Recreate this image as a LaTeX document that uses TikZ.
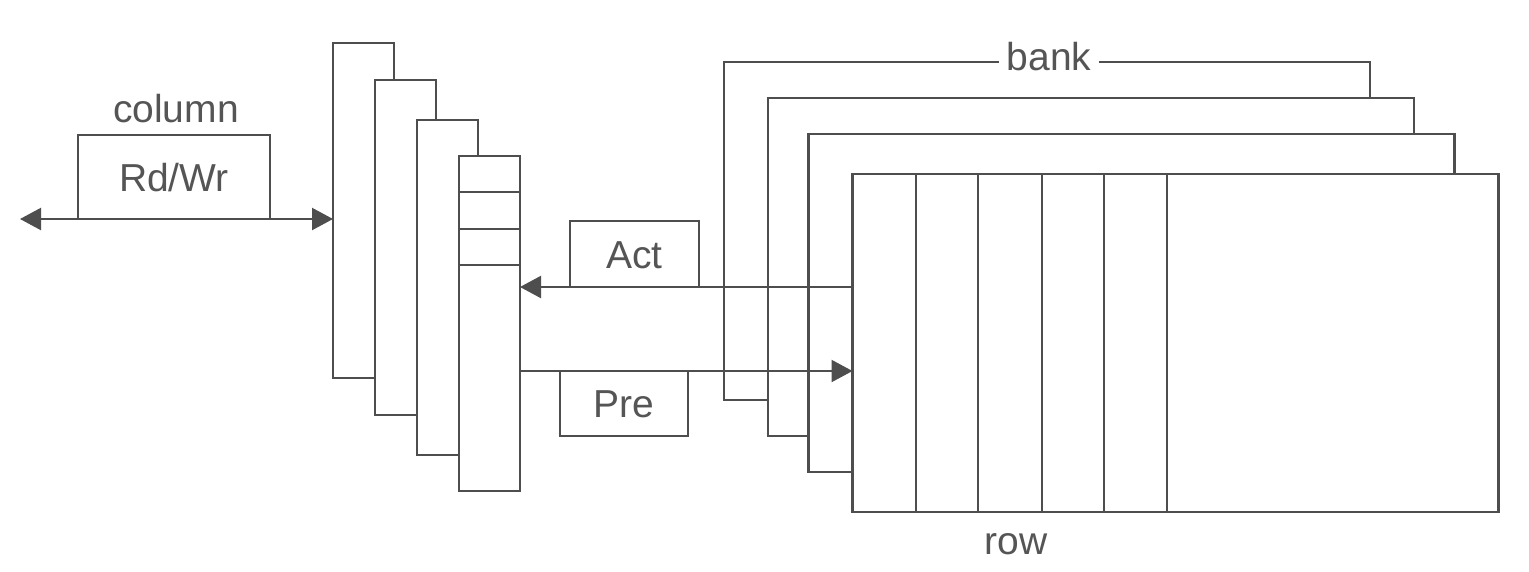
\documentclass[tikz,border=0pt]{standalone}
\usepackage{fontspec}
\setmainfont{Liberation Sans}
\usetikzlibrary{arrows.meta}
\definecolor{ink}{RGB}{78,78,78}
\definecolor{txt}{RGB}{85,85,85}
\begin{document}
\begin{tikzpicture}[x=1pt,y=-1pt,
  line width=2.2pt, draw=ink,
  every node/.style={font=\fontsize{39}{44}\selectfont, text=txt},
  buf/.style={draw=ink, fill=white, line width=2.2pt, inner sep=0pt, outer sep=0pt,
              minimum width=61pt, minimum height=335pt},
  bankbox/.style={draw=ink, fill=white, line width=2.2pt, inner sep=0pt, outer sep=0pt,
              minimum width=646pt, minimum height=338pt},
  cmd/.style={draw=ink, fill=white, line width=2.2pt, inner sep=0pt, outer sep=0pt,
              text height=28pt, text depth=0pt},
  lbl/.style={inner sep=0pt, anchor=base},
  tip/.style={-{Triangle[length=21pt,width=22pt]}},
  tips/.style={{Triangle[length=21pt,width=22pt]}-{Triangle[length=21pt,width=22pt]}}
]
\useasboundingbox[fill=white] (0,0) rectangle (1529,571);

% row buffers (back to front)
\node[buf] (rb1) at (363.5,210.5) {};
\node[buf] (rb2) at (405.5,247.5) {};
\node[buf] (rb3) at (447.5,287.5) {};
\node[buf] (rb4) at (489.5,323.5) {};
\foreach \yy in {192,229,265} {
  \coordinate (ly) at (0,\yy);
  \draw[ink] (rb4.west |- ly) -- (rb4.east |- ly);
}

% banks (back to front)
\node[bankbox] (bank1) at (1047,231) {};
\node[bankbox] (bank2) at (1091,267) {};
\node[bankbox] (bank3) at (1131.5,303) {};
\node[bankbox] (bank4) at (1175.5,343) {};
\foreach \xx in {916,978,1042,1104,1167} {
  \coordinate (lx) at (\xx,0);
  \draw[ink] (lx |- bank4.north) -- (lx |- bank4.south);
}
\node[lbl, fill=white, inner xsep=8pt, inner ysep=2pt] (banklbl) at (1049,70) {bank};
\node[lbl] (rowlbl) at (1016,554) {row};

% command boxes
\node[cmd, minimum width=192pt, minimum height=84pt] (rw) at (174,177) {Rd/Wr};
\node[lbl] (collbl) at (176,122) {column};
\node[cmd, minimum width=129pt, minimum height=66pt] (act) at (634.5,254) {Act};
\node[cmd, minimum width=128pt, minimum height=65pt] (pre) at (624,403.5) {Pre};

% connectors
\coordinate (lend) at (20,219);
\draw[ink, tips] (lend) -- (rb1.west |- rw.south);
\draw[ink, tip] (bank4.west |- act.south) -- (rb4.east |- act.south);
\draw[ink, tip] (rb4.east |- pre.north) -- (bank4.west |- pre.north);
\end{tikzpicture}
\end{document}
